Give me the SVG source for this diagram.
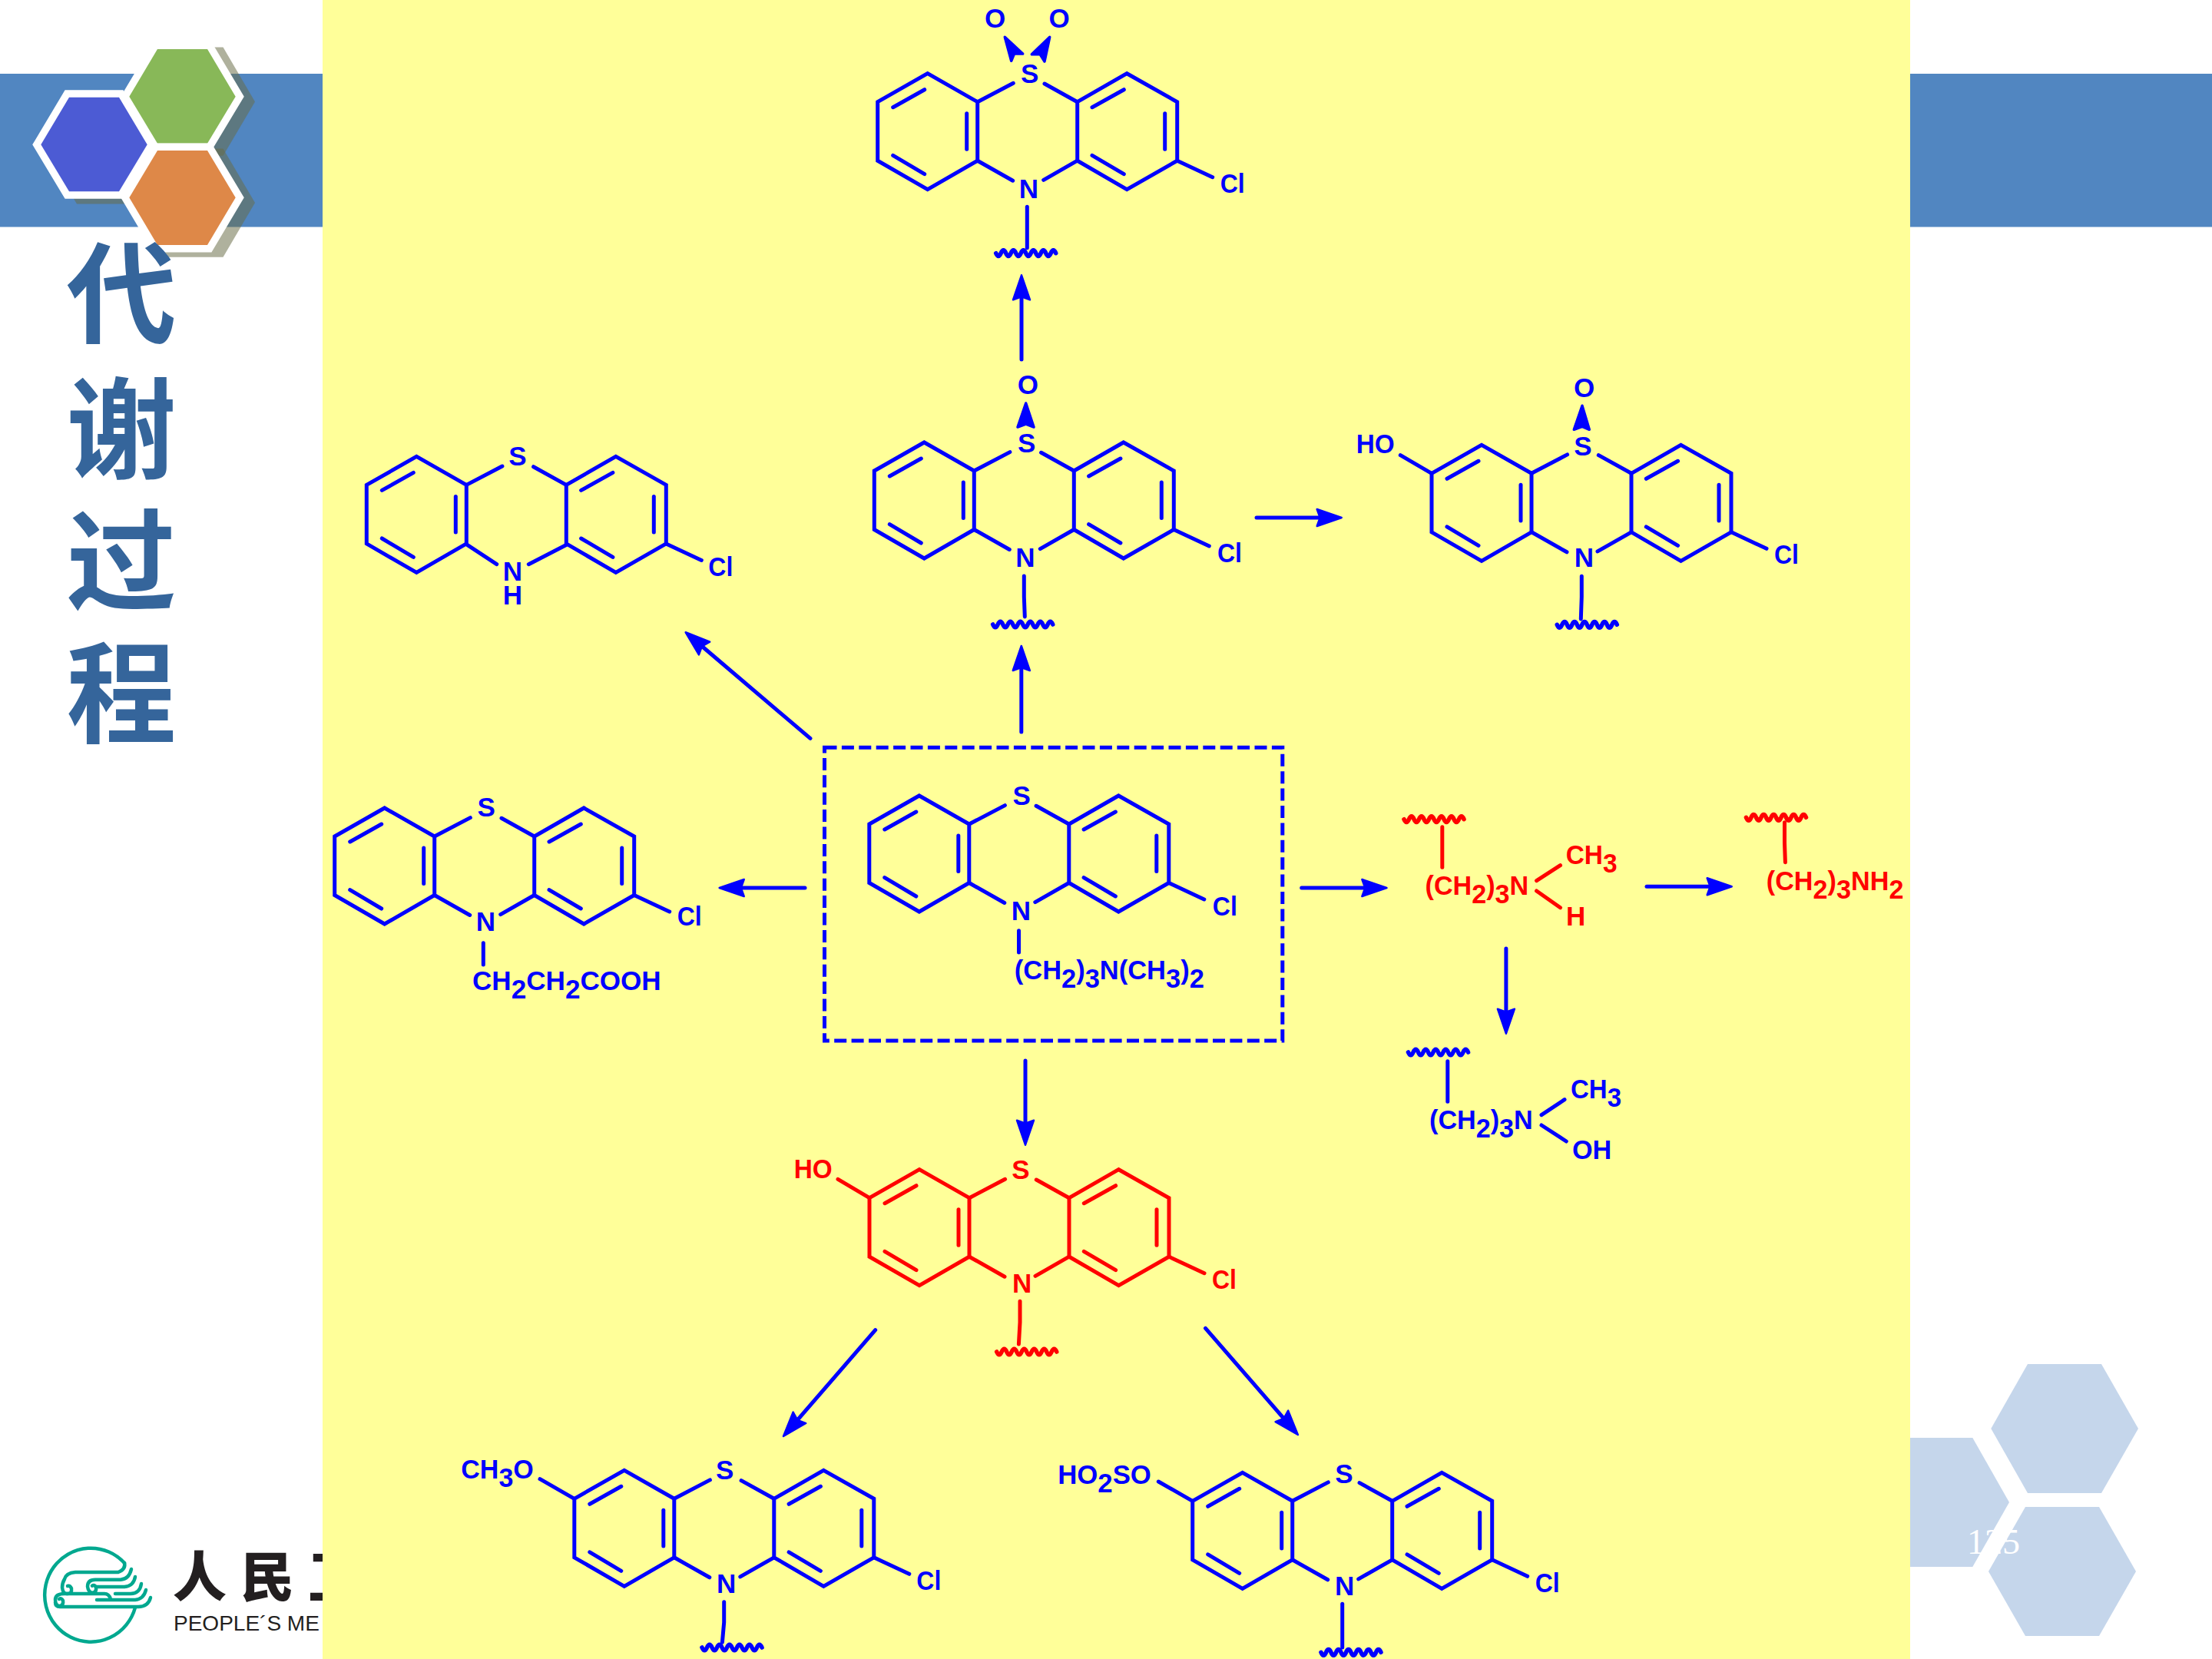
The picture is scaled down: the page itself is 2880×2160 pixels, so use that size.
<svg xmlns="http://www.w3.org/2000/svg" width="2880" height="2160" viewBox="0 0 2880 2160">
<style>
.bl{color:#0000ff}.rd{color:#ff0000}
.t{font-family:"Liberation Sans",Arial,sans-serif;font-weight:700;font-size:35px;fill:currentColor}
.m{text-anchor:middle}
.ln{fill:none;stroke:currentColor;stroke-width:5;stroke-linecap:round;stroke-linejoin:miter}
.sqg{fill:none;stroke:currentColor;stroke-width:5.6;stroke-linecap:round;stroke-linejoin:round}
.wd{fill:currentColor;stroke:currentColor;stroke-width:3.5;stroke-linejoin:round}
.arr{fill:none;stroke:#0000ff;stroke-width:5;stroke-linecap:round;marker-end:url(#ah)}
.hx{stroke:#fff;stroke-width:19;stroke-linejoin:miter;paint-order:stroke}
.shd{fill:#686b46;fill-opacity:.53}
.lg{fill:none;stroke:#00a88f;stroke-width:4.5;stroke-linecap:round}
.title{font-family:"Noto Sans CJK SC","Noto Sans",sans-serif;font-weight:700;font-size:143px;fill:#35659b;text-anchor:middle}
.pale{fill:#c5d6eb}
</style>
<defs>
<marker id="ah" markerUnits="userSpaceOnUse" markerWidth="40" markerHeight="30" refX="19" refY="15" orient="auto">
<path d="M34 15L2 4L6 15L2 26Z" fill="#0000ff" stroke="#0000ff" stroke-width="2.500" stroke-linejoin="round"/>
</marker>
<g id="core" class="ln">
<polygon points="0,37 65,0 130,37 130,113.5 65,151 0,113.5"/>
<polygon points="260,37 324.5,0 390,37 390,113.5 324.5,151 260,113.5"/>
<line x1="130" y1="37" x2="176.6" y2="12.6"/>
<line x1="217.3" y1="13.3" x2="260" y2="37"/>
<line x1="390" y1="113.5" x2="436" y2="135"/>
<line x1="20" y1="44" x2="61" y2="21"/>
<line x1="116" y1="52" x2="116" y2="98.6"/>
<line x1="20" y1="106.6" x2="61" y2="131"/>
<line x1="279.3" y1="44" x2="320.6" y2="21"/>
<line x1="374" y1="52" x2="374" y2="98.6"/>
<line x1="279.3" y1="106.6" x2="320.6" y2="131"/>
</g>
<g id="nb" class="ln">
<line x1="130" y1="113.5" x2="176" y2="139.5"/>
<line x1="216" y1="138.6" x2="260" y2="113.5"/>
</g>
<path id="sq" class="sqg" d="M0 0q3.25 7.6 6.5 0t6.5 0t6.5 0t6.5 0t6.5 0t6.5 0t6.5 0t6.5 0t6.5 0t6.5 0t6.5 0t6.5 0"/>
</defs>

<rect width="2880" height="2160" fill="#ffffff"/>
<g id="header-bars">
<rect x="0" y="96" width="420" height="199.5" fill="#5186c1"/>
<rect x="2487" y="96" width="393" height="199.5" fill="#5186c1"/>
</g>

<g id="logo-hexagons">
<polygon class="shd" points="58.3,195 100,124 175,124 217,195 175,265.4 100,265.4"/>
<polygon class="shd" points="173,132.4 214.5,61.4 290.5,61.4 332,132.4 290.5,202.7 214.5,202.7"/>
<polygon class="shd" points="173,264 214.5,193.4 290.5,193.4 332,264 290.5,334.7 214.5,334.7"/>
<polygon class="hx" fill="#4c5bd4" points="53.3,188.3 90,126.7 155,126.7 191.7,188.3 155,249.3 90,249.3"/>
<polygon class="hx" fill="#88b858" points="168.3,125.7 205,64 270,64 306.7,125.7 270,186.7 205,186.7"/>
<polygon class="hx" fill="#de8848" points="168.3,257.3 205,196 270,196 306.7,257.3 270,319 205,319"/>
</g>

<g id="title">
<text class="title" x="158" y="436">代</text>
<text class="title" x="158" y="612">谢</text>
<text class="title" x="158" y="783">过</text>
<text class="title" x="158" y="956">程</text>
</g>

<g id="publisher-logo">
<path class="lg" d="M162 2035A60 61 0 1 0 176 2093"/>
<path class="lg" d="M162 2035q2 8 -8 12H98q-12 1 -14 9q-3 5 -3 11q1 9 7 8q6 0 5 -7q-2 -4 -5 -3"/>
<path class="lg" d="M171 2043q-3 13 -14 13.700H124q-10 0 -10 9q1 8 7 8q5 -1 4 -7q-2 -4 -5 -2"/>
<path class="lg" d="M176 2053q-2 12 -14 13H126"/>
<path class="lg" d="M184 2062q-2 13 -14 13H150M144 2082q-2 -7 -8 -7H84q-12 0 -12 8q0 8 6 8q5 -1 4 -7q-2 -4 -5 -2"/>
<path class="lg" d="M190 2070q-3 12 -14 13H126"/>
<path class="lg" d="M196 2080q-3 12 -16 12H78q-6 0 -6 -6"/>
<text x="225" y="2079" font-family="'Noto Sans CJK SC',sans-serif" font-weight="900" font-size="70" letter-spacing="18" fill="#231f20">人民卫</text>
<text x="226" y="2123" font-family="'Liberation Sans',Arial,sans-serif" font-size="28" fill="#231f20">PEOPLE´S ME</text>
</g>

<g id="corner-hexagons">
<polygon class="pale" points="2592.3,1860 2640,1776 2736,1776 2784,1860 2736,1944 2640,1944"/>
<polygon class="pale" points="2589,2046 2637,1962 2733,1962 2781,2046 2733,2130 2637,2130"/>
<polygon class="pale" points="2424,1956 2472,1872 2568.3,1872 2616,1956 2568.3,2040 2472,2040"/>
<text x="2561" y="2022.7" font-family="'Liberation Serif',serif" font-size="46" fill="#ffffff">125</text>
</g>

<rect id="panel" x="420" y="0" width="2067" height="2160" fill="#ffff99"/>

<g id="connectors">
<path class="arr" d="M1330 468V373.3"/>
<path class="arr" d="M1329.8 953V856"/>
<path class="arr" d="M1055 961.4L904.1 833"/>
<path class="arr" d="M1048 1156H951.7"/>
<path class="arr" d="M1636 674H1731.7"/>
<path class="arr" d="M1335 1381V1475.7"/>
<path class="arr" d="M1139.7 1731.7L1029.8 1858.7"/>
<path class="arr" d="M1569.5 1729.3L1680 1856.7"/>
<path class="arr" d="M1694.7 1156H1790.4"/>
<path class="arr" d="M2144 1154.3H2239.7"/>
<path class="arr" d="M1960.9 1235V1330.7"/>
</g>

<g id="sulfone" class="bl" transform="translate(1142.7,95.7)">
<use href="#core"/><use href="#nb"/>
<text class="t m" x="153" y="-59.7">O</text>
<text class="t m" x="236.500" y="-59.7">O</text>
<polygon class="wd" points="165.6,-47.4 189,-25.7 178,-26 174,-16.4"/>
<polygon class="wd" points="224,-47.4 200.6,-25 211.5,-25 217.3,-15.7"/>
<text class="t m" x="198" y="12.6">S</text>
<text class="t m" x="196.6" y="162">N</text>
<text class="t" x="446" y="155" textLength="32" lengthAdjust="spacingAndGlyphs">Cl</text>
<line class="ln" x1="194.6" y1="173.6" x2="194.6" y2="227"/>
<use href="#sq" x="154" y="234"/>
</g>

<g id="sulfoxide" class="bl" transform="translate(1138.3,576)">
<use href="#core"/><use href="#nb"/>
<text class="t m" x="200" y="-62.7">O</text>
<polygon class="wd" points="197.4,-51 186.7,-20 197.4,-24 207.7,-20"/>
<text class="t m" x="198.4" y="13.3">S</text>
<text class="t m" x="196.7" y="162.3">N</text>
<text class="t" x="446.7" y="156" textLength="32" lengthAdjust="spacingAndGlyphs">Cl</text>
<polyline class="ln" points="195,174 195,201 196,227"/>
<use href="#sq" x="154.4" y="237"/>
</g>

<g id="hydroxy-sulfoxide" class="bl" transform="translate(1864,579.3)">
<use href="#core"/><use href="#nb"/>
<line class="ln" x1="0" y1="37" x2="-40.7" y2="13.4"/>
<text class="t" x="-98.3" y="10.7" textLength="50" lengthAdjust="spacingAndGlyphs">HO</text>
<text class="t m" x="198.7" y="-62.6">O</text>
<polygon class="wd" points="196,-51 185.3,-20 196,-24 205.3,-20"/>
<text class="t m" x="197" y="13.4">S</text>
<text class="t m" x="198.3" y="159">N</text>
<text class="t" x="446" y="155" textLength="32" lengthAdjust="spacingAndGlyphs">Cl</text>
<polyline class="ln" points="195.3,171 195.3,198 194.3,226.7"/>
<use href="#sq" x="163.3" y="234"/>
</g>

<g id="sulfoxide-free-amine" class="bl" transform="translate(477.3,594.4)">
<use href="#core"/>
<line class="ln" x1="131" y1="115" x2="169.4" y2="140.3"/>
<line class="ln" x1="211" y1="140.3" x2="259.4" y2="115.4"/>
<text class="t m" x="196.7" y="12">S</text>
<text class="t m" x="190" y="162">N</text>
<text class="t m" x="190" y="193">H</text>
<text class="t" x="445" y="156" textLength="32" lengthAdjust="spacingAndGlyphs">Cl</text>
</g>

<g id="propionic-acid" class="bl" transform="translate(435.7,1052)">
<use href="#core"/><use href="#nb"/>
<text class="t m" x="197.6" y="11">S</text>
<text class="t m" x="196.6" y="160">N</text>
<text class="t" x="446" y="153" textLength="32" lengthAdjust="spacingAndGlyphs">Cl</text>
<line class="ln" x1="193.6" y1="175.7" x2="193.6" y2="204"/>
<text class="t" x="179.3" y="237" textLength="245.7" lengthAdjust="spacingAndGlyphs">CH<tspan dy="11">2</tspan><tspan dy="-11">CH</tspan><tspan dy="11">2</tspan><tspan dy="-11">COOH</tspan></text>
</g>

<g id="chlorpromazine" class="bl" transform="translate(1131.8,1036)">
<rect class="ln" x="-58.3" y="-62.7" width="596.3" height="381.7" style="stroke-width:5;stroke-dasharray:16 6.4;stroke-linecap:butt"/>
<use href="#core"/><use href="#nb"/>
<text class="t m" x="198.4" y="12.3">S</text>
<text class="t m" x="197.6" y="162.3">N</text>
<text class="t" x="447" y="155.7" textLength="32" lengthAdjust="spacingAndGlyphs">Cl</text>
<line class="ln" x1="194.7" y1="175.7" x2="194.7" y2="204"/>
<text class="t" x="189" y="239" textLength="247" lengthAdjust="spacingAndGlyphs">(CH<tspan dy="11">2</tspan><tspan dy="-11">)</tspan><tspan dy="11">3</tspan><tspan dy="-11">N(CH</tspan><tspan dy="11">3</tspan><tspan dy="-11">)</tspan><tspan dy="11">2</tspan></text>
</g>

<g id="hydroxy-red" class="rd" transform="translate(1132,1522.7)">
<use href="#core"/><use href="#nb"/>
<line class="ln" x1="0" y1="37" x2="-41" y2="12.6"/>
<text class="t" x="-98.3" y="11.3" textLength="50" lengthAdjust="spacingAndGlyphs">HO</text>
<text class="t m" x="197" y="12.3">S</text>
<text class="t m" x="198.6" y="160">N</text>
<text class="t" x="446" y="155" textLength="32" lengthAdjust="spacingAndGlyphs">Cl</text>
<polyline class="ln" points="196,171.6 196,199 194.4,227.3"/>
<use href="#sq" x="165.7" y="237.3"/>
</g>

<g id="methoxy" class="bl" transform="translate(747.8,1914.3)">
<use href="#core"/><use href="#nb"/>
<line class="ln" x1="0" y1="37" x2="-44.8" y2="11.4"/>
<text class="t" x="-147.5" y="11" textLength="94.4" lengthAdjust="spacingAndGlyphs">CH<tspan dy="11">3</tspan><tspan dy="-11">O</tspan></text>
<text class="t m" x="196" y="11.4">S</text>
<text class="t m" x="197.8" y="160">N</text>
<text class="t" x="445.5" y="155.7" textLength="32" lengthAdjust="spacingAndGlyphs">Cl</text>
<polyline class="ln" points="194.9,171.4 194.9,198 192.6,224"/>
<use href="#sq" x="166.2" y="230.7"/>
</g>

<g id="sulfate" class="bl" transform="translate(1552.7,1917.3)">
<use href="#core"/><use href="#nb"/>
<line class="ln" x1="0" y1="37" x2="-44.4" y2="11.7"/>
<text class="t" x="-175.500" y="14.4" textLength="121.7" lengthAdjust="spacingAndGlyphs">HO<tspan dy="11">2</tspan><tspan dy="-11">SO</tspan></text>
<text class="t m" x="197.3" y="13.4">S</text>
<text class="t m" x="198" y="160">N</text>
<text class="t" x="446" y="155.7" textLength="32" lengthAdjust="spacingAndGlyphs">Cl</text>
<line class="ln" x1="195" y1="171" x2="195" y2="227.7"/>
<use href="#sq" x="167.3" y="234"/>
</g>

<g id="monodemethyl" class="rd">
<use href="#sq" x="1828" y="1066.7"/>
<line class="ln" x1="1877.8" y1="1076.7" x2="1877.8" y2="1129.3"/>
<text class="t" x="1855.5" y="1165" textLength="134.8" lengthAdjust="spacingAndGlyphs">(CH<tspan dy="11">2</tspan><tspan dy="-11">)</tspan><tspan dy="11">3</tspan><tspan dy="-11">N</tspan></text>
<line class="ln" x1="2000.6" y1="1146.7" x2="2031.5" y2="1126.7"/>
<line class="ln" x1="2000.6" y1="1160" x2="2031.5" y2="1181.7"/>
<text class="t" x="2038.7" y="1125" textLength="67" lengthAdjust="spacingAndGlyphs">CH<tspan dy="11">3</tspan></text>
<text class="t" x="2039" y="1205">H</text>
</g>

<g id="didemethyl" class="rd">
<use href="#sq" x="2273.5" y="1064.3"/>
<polyline class="ln" points="2323.5,1070.7 2323.5,1097.3 2324.4,1122.7"/>
<text class="t" x="2299.8" y="1159" textLength="178.6" lengthAdjust="spacingAndGlyphs">(CH<tspan dy="11">2</tspan><tspan dy="-11">)</tspan><tspan dy="11">3</tspan><tspan dy="-11">NH</tspan><tspan dy="11">2</tspan></text>
</g>

<g id="n-hydroxy" class="bl">
<use href="#sq" x="1833.5" y="1370"/>
<line class="ln" x1="1884.8" y1="1381.7" x2="1884.8" y2="1434.3"/>
<text class="t" x="1861" y="1470" textLength="134.8" lengthAdjust="spacingAndGlyphs">(CH<tspan dy="11">2</tspan><tspan dy="-11">)</tspan><tspan dy="11">3</tspan><tspan dy="-11">N</tspan></text>
<line class="ln" x1="2007" y1="1451.7" x2="2037" y2="1431.7"/>
<line class="ln" x1="2007" y1="1465" x2="2039.3" y2="1486"/>
<text class="t" x="2045" y="1430" textLength="66" lengthAdjust="spacingAndGlyphs">CH<tspan dy="11">3</tspan></text>
<text class="t" x="2047" y="1509.3" textLength="51.3" lengthAdjust="spacingAndGlyphs">OH</text>
</g>
</svg>
